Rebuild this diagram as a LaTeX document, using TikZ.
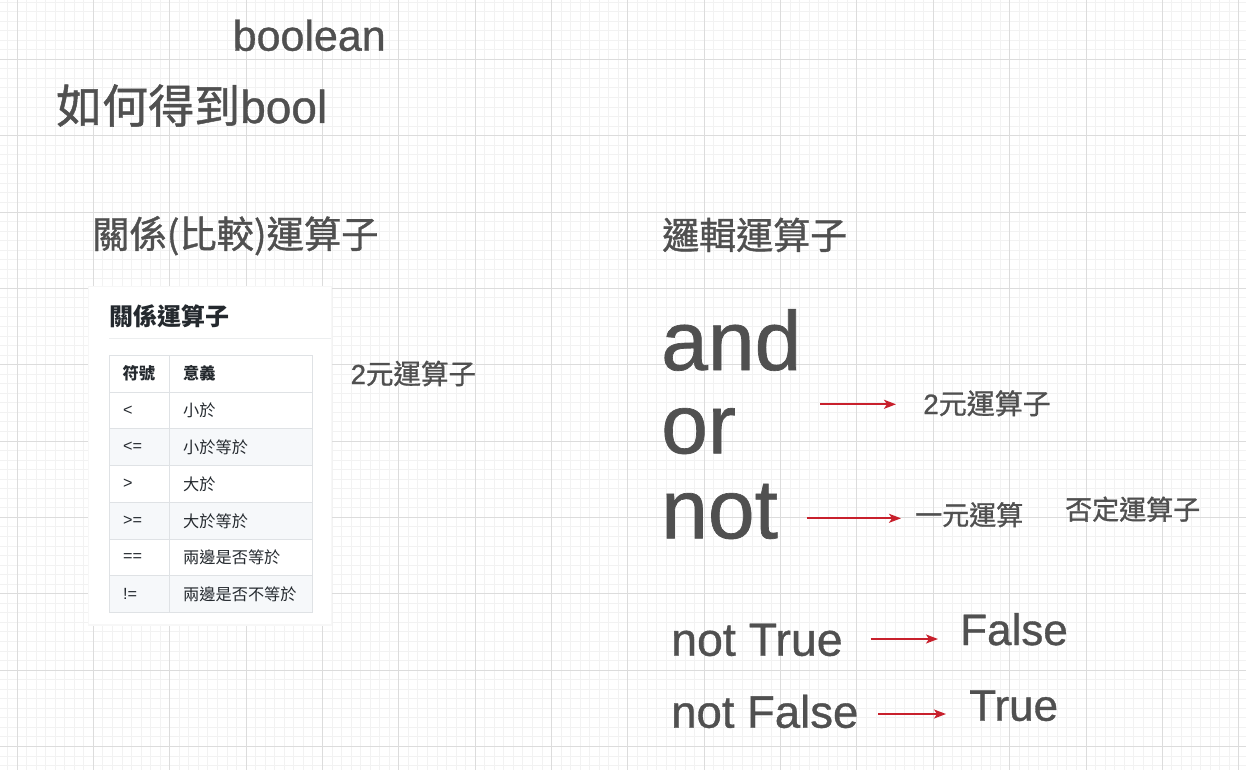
\documentclass[tikz,border=0pt]{standalone}
\usepackage{fontspec}
\setmainfont{Liberation Sans}
\newfontfamily\cjk{Noto Sans CJK TC}
\newfontfamily\cjkb[FakeBold=1]{Noto Sans CJK TC}
\newfontfamily\latb[FakeBold=0.8]{Liberation Sans}
\usetikzlibrary{arrows.meta}
\definecolor{txt}{HTML}{505050}
\definecolor{gridminor}{HTML}{F2F2F2}
\definecolor{gridmajor}{HTML}{DCDCDC}
\definecolor{arr}{HTML}{C8202C}
\definecolor{tbltxt}{HTML}{24292E}
\definecolor{tblline}{HTML}{DFE2E5}
\definecolor{tblfill}{HTML}{F6F8FA}
\begin{document}
\begin{tikzpicture}[x=1pt,y=-1pt,
  lbl/.style={anchor=base west,inner sep=0pt,text=txt},
  redarrow/.style={draw=arr,line width=1.8pt,-{Stealth[length=12pt,width=9pt,inset=3pt]}},
  cell/.style={anchor=west,inner sep=0pt,text=tbltxt,font=\fontsize{16.2}{18}\selectfont},
  minorline/.style={draw=gridminor,line width=1pt},
  majorline/.style={draw=gridmajor,line width=1pt}
]
\useasboundingbox (0,0) rectangle (1246,770);
\fill[white] (0,0) rectangle (1246,770);
% background grid
\begin{scope}
\clip (0,0) rectangle (1246,770);
\foreach \k in {-2,...,131} { \draw[minorline] ({17.1+9.544*\k},0) -- ({17.1+9.544*\k},770); }
\foreach \k in {-7,...,75} { \draw[minorline] (0,{59.3+9.544*\k}) -- (1246,{59.3+9.544*\k}); }
\foreach \k in {0,...,16} { \draw[majorline] ({17.1+76.35*\k},0) -- ({17.1+76.35*\k},770); }
\foreach \k in {0,...,9} { \draw[majorline] (0,{59.3+76.35*\k}) -- (1246,{59.3+76.35*\k}); }
\end{scope}

% headings
\node[lbl,font=\latb\fontsize{43}{50}\selectfont] (boolean) at (232.5,50.7) {boolean};
\node[lbl,font=\latb\fontsize{46}{54}\selectfont] (howto) at (56,123) {{\cjkb 如何得到}bool};
\node[lbl,font=\fontsize{37.3}{44}\selectfont] (relhead) at (92,248) {\cjkb 關係(比較)運算子};
\node[lbl,font=\fontsize{37}{44}\selectfont] (loghead) at (662,249) {\cjkb 邏輯運算子};

% card with table
\fill[black!3] (88,286) rectangle (332,626);
\fill[white] (89,287) rectangle (331,624);
\node[anchor=base west,inner sep=0pt,text=tbltxt,font=\fontsize{24}{28}\selectfont] (cardtitle) at (109,325.5) {\cjk\bfseries 關係運算子};
\draw[draw=tblline!60,line width=1pt] (109,338) -- (331,338);

\foreach \i in {2,4,6} { \fill[tblfill] (109,{355.3+36.77*\i}) rectangle (312,{355.3+36.77*(\i+1)}); }
\draw[draw=tblline,line width=1pt] (109,355.3) rectangle (312,612.7);
\foreach \i in {1,...,6} { \draw[draw=tblline,line width=1pt] (109,{355.3+36.77*\i}) -- (312,{355.3+36.77*\i}); }
\draw[draw=tblline,line width=1pt] (169,355.3) -- (169,612.7);

\node[cell] (h1) at (122.5,373.7) {\cjk\bfseries 符號};
\node[cell] (h2) at (183,373.7) {\cjk\bfseries 意義};
\node[cell] (s1) at (123,410.4) {<};
\node[cell] (m1) at (183,410.4) {\cjk 小於};
\node[cell] (s2) at (123,447.2) {<=};
\node[cell] (m2) at (183,447.2) {\cjk 小於等於};
\node[cell] (s3) at (123,484.0) {>};
\node[cell] (m3) at (183,484.0) {\cjk 大於};
\node[cell] (s4) at (123,520.8) {>=};
\node[cell] (m4) at (183,520.8) {\cjk 大於等於};
\node[cell] (s5) at (123,557.5) {==};
\node[cell] (m5) at (183,557.5) {\cjk 兩邊是否等於};
\node[cell] (s6) at (123,594.3) {!=};
\node[cell] (m6) at (183,594.3) {\cjk 兩邊是否不等於};

\node[lbl,font=\latb\fontsize{27.5}{32}\selectfont] (binleft) at (350.5,384) {2{\cjkb 元運算子}};

% logical operators
\node[lbl,font=\latb\fontsize{84}{84}\selectfont] (and) at (661,370) {and};
\node[lbl,font=\latb\fontsize{84}{84}\selectfont] (or) at (661,453.3) {or};
\node[lbl,font=\latb\fontsize{84}{84}\selectfont] (not) at (661,538.3) {not};

\node[lbl,font=\latb\fontsize{28}{32}\selectfont] (binright) at (923,414) {2{\cjkb 元運算子}};
\node[lbl,font=\fontsize{27}{32}\selectfont] (unary) at (915,525) {\cjkb 一元運算};
\node[lbl,font=\fontsize{27}{32}\selectfont] (negop) at (1065,519.5) {\cjkb 否定運算子};

\node[lbl,font=\latb\fontsize{46.5}{50}\selectfont] (nottrue) at (671,655.7) {not True};
\node[lbl,font=\latb\fontsize{45.5}{50}\selectfont] (notfalse) at (671,727.7) {not False};
\node[lbl,font=\latb\fontsize{44}{50}\selectfont] (false) at (960,645) {False};
\node[lbl,font=\latb\fontsize{44}{50}\selectfont] (true) at (969,720.7) {True};

% arrows
\coordinate (a1s) at (820,404.3);
\coordinate (a1e) at (896,404.3);
\coordinate (a2s) at (807,518.3);
\coordinate (a2e) at (901,518.3);
\coordinate (a3s) at (870.7,639);
\coordinate (a3e) at (938,639);
\coordinate (a4s) at (878.3,714);
\coordinate (a4e) at (946,714);
\draw[redarrow] (a1s) -- (a1e);
\draw[redarrow] (a2s) -- (a2e);
\draw[redarrow] (a3s) -- (a3e);
\draw[redarrow] (a4s) -- (a4e);
\end{tikzpicture}
\end{document}
